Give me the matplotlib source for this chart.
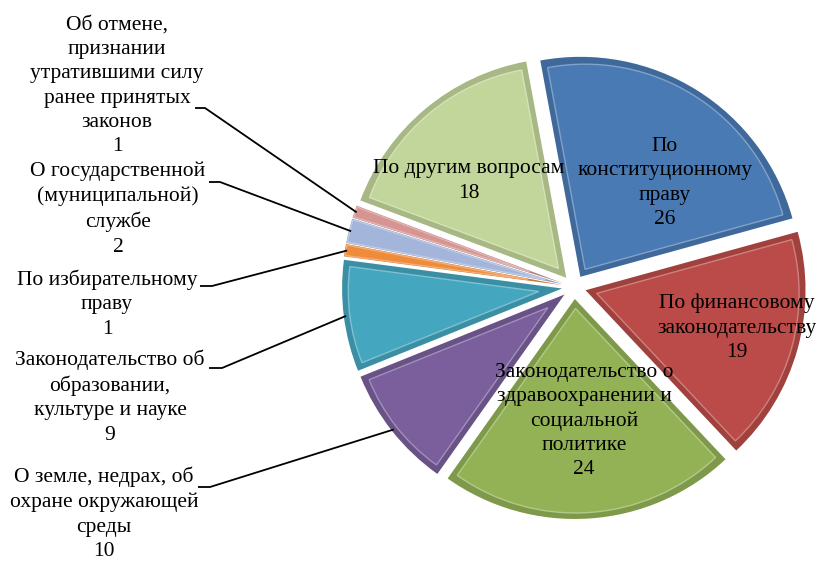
import matplotlib
matplotlib.use('Agg')
import numpy as np
import matplotlib.pyplot as plt
import matplotlib.colors as mcolors
from matplotlib.patches import Wedge

plt.rcParams['font.family'] = ['Liberation Serif', 'DejaVu Serif']

# данные диаграммы (по часовой стрелке, начиная с синего сектора)
categories = ['По\nконституционному\nправу',
              'По финансовому\nзаконодательству',
              'Законодательство о\nздравоохранении и\nсоциальной\nполитике',
              'О земле, недрах, об\nохране окружающей\nсреды',
              'Законодательство об\nобразовании,\nкультуре и науке',
              'По избирательному\nправу',
              'О государственной\n(муниципальной)\nслужбе',
              'Об отмене,\nпризнании\nутратившими силу\nранее принятых\nзаконов',
              'По другим вопросам']
values = [26, 19, 24, 10, 9, 1, 2, 1, 18]
colors = ['#4A7AB4', '#BA4B48', '#93B255', '#7A5F9C', '#45A6BF',
          '#EE8C3C', '#A3B5DA', '#D69593', '#C2D69B']

# раскладка (пиксели, y сверху)
W, H = 816, 563
cx, cy = 574, 287
R = 220
EXPL = 12
inside = {0: (665, 183), 1: (737, 328), 2: (584, 421), 8: (469, 181)}
outside = {7: ((117, 86), (195, 205, 108)),
           6: ((118, 209), (209, 220, 182)),
           5: ((107, 304), (200, 212, 286)),
           4: ((110, 397), (209, 222, 368)),
           3: ((104, 514), (198, 210, 487))}

fig = plt.figure(figsize=(W / 100, H / 100), dpi=100)
ax = fig.add_axes([0, 0, 1, 1])

def shade(c, f):
    rgb = np.array(mcolors.to_rgb(c))
    if f < 1:
        return tuple(rgb * f)
    return tuple(rgb + (1 - rgb) * (f - 1))

rim_cols = [shade(c, 0.86) for c in colors]
wedges, _ = ax.pie(values, colors=rim_cols, startangle=100.5, counterclock=False,
                   radius=R, center=(cx, H - cy), explode=[EXPL] * len(values),
                   wedgeprops=dict(linewidth=0), frame=True)
ax.set_xlim(0, W)
ax.set_ylim(0, H)
ax.set_aspect('equal')
ax.axis('off')

# фаска: внутренний сектор основного цвета поверх тёмного
for w, c in zip(wedges, colors):
    t1, t2 = w.theta1, w.theta2
    half = np.deg2rad((t2 - t1) / 2)
    tm = np.deg2rad((t1 + t2) / 2)
    d = 6 if (t2 - t1) > 20 else 1.0
    s = d / np.sin(half)
    r2 = w.r - d - s
    if r2 < 5:
        continue
    c2 = (w.center[0] + s * np.cos(tm), w.center[1] + s * np.sin(tm))
    ax.add_patch(Wedge(c2, r2, t1, t2, facecolor=c, edgecolor=shade(c, 1.3),
                       linewidth=1.0, zorder=3))

fs = 15.5
for i, (x, y) in inside.items():
    ax.text(x, H - y, f'{categories[i]}\n{values[i]}', ha='center', va='center',
            fontsize=fs, linespacing=1.38, zorder=5)

for i, ((x, y), (k1, k2, ky)) in outside.items():
    ax.text(x, H - y, f'{categories[i]}\n{values[i]}', ha='center', va='center',
            fontsize=fs, linespacing=1.38, zorder=5)
    w = wedges[i]
    tm = np.deg2rad((w.theta1 + w.theta2) / 2)
    ex, ey = w.center[0] + w.r * 0.99 * np.cos(tm), w.center[1] + w.r * 0.99 * np.sin(tm)
    ax.plot([k1, k2, ex], [H - ky, H - ky, ey], color='black', lw=1.3,
            solid_capstyle='butt', zorder=4)

fig.savefig('out.png', dpi=100)
